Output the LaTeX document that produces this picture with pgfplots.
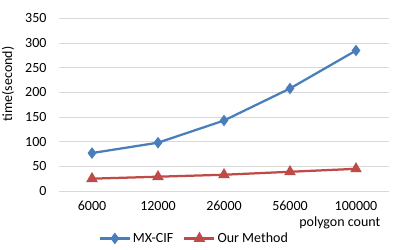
\documentclass[border=0pt]{standalone}
\usepackage{pgfplots}
\pgfplotsset{compat=1.18}
\usepackage{fontspec}
\setmainfont{Carlito}
\definecolor{cblue}{HTML}{4A7EBB}
\definecolor{cred}{HTML}{BE4B48}
\definecolor{cgrid}{HTML}{D9D9D9}
\newcommand{\cf}{\fontsize{14bp}{16bp}\selectfont}
\begin{document}
\begin{tikzpicture}[x=1bp,y=1bp, font=\cf]
\useasboundingbox (0,0) rectangle (404,250);
\begin{axis}[
  at={(59bp,59bp)}, anchor=south west,
  scale only axis, width=330bp, height=172.5bp,
  xmin=-0.5, xmax=4.5, ymin=0, ymax=350,
  xtick={0,1,2,3,4},
  xticklabels={6000,12000,26000,56000,100000},
  ytick={0,50,...,350},
  yticklabels={0,50,100,150,200,250,300,350},
  ymajorgrids, grid style={cgrid, line width=0.75bp},
  axis line style={draw=none},
  major tick length=0pt,
  tick label style={font=\cf},
  /pgf/number format/assume math mode=true,
  yticklabel style={anchor=east, xshift=-9bp},
  xticklabel style={yshift=-7bp},
  legend columns=2,
  legend style={at={(0.41,-0.275)}, anchor=center, draw=none, fill=none,
    font=\cf,
    /tikz/every even column/.append style={column sep=8bp}},
  legend image code/.code={\draw[#1] (0bp,0bp) -- (30bp,0bp); \draw[#1] plot coordinates {(15bp,0bp)};},
  clip=false,
]
\addplot[cblue, line width=2.25bp, mark=diamond*, mark size=4bp, mark options={solid}] coordinates {
 (0,77) (1,98) (2,143) (3,208) (4,285)};
\addlegendentry{MX-CIF}
\addplot[cred, line width=2.25bp, mark=triangle*, mark size=4.5bp, mark options={solid}] coordinates {
 (0,25) (1,29) (2,33) (3,39) (4,45)};
\addlegendentry{Our Method}
\node[anchor=center, font=\cf] at (rel axis cs:0.851,-0.183) {polygon count};
\end{axis}
\node[rotate=90, anchor=center, font=\cf] at (8,166) {time(second)};
\end{tikzpicture}
\end{document}
